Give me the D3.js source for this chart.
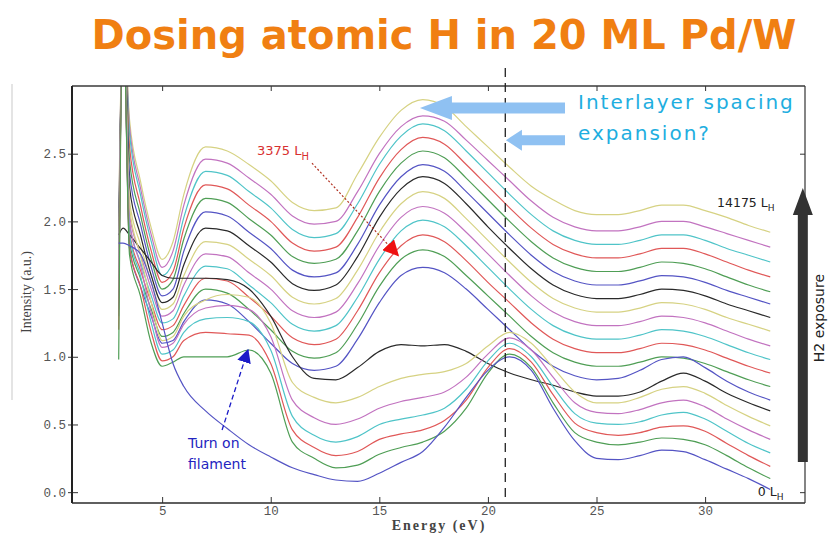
<!DOCTYPE html>
<html>
<head>
<meta charset="utf-8">
<script src="https://cdnjs.cloudflare.com/ajax/libs/d3/7.8.5/d3.min.js"></script>
<style>
    body { margin: 0; background: #fff; }
    svg { display: block; }
</style>
</head>
<body>
<div id="chart"></div>
<script>
// energy grid shared by every spectrum (eV)
const energy = [3.0, 3.2, 3.5, 4, 4.5, 5, 5.5, 6, 7, 8, 9, 10, 11, 12, 13, 14, 15, 16, 17, 18, 19, 20, 21, 22, 23, 24, 25, 26, 27, 28, 29, 30, 31, 32, 33];

// spectra, top (14175 L_H) to bottom (0 L_H)
const s01 = [2.0, 3.6, 2.75, 2.3, 1.95, 1.72, 1.85, 2.2, 2.55, 2.52, 2.42, 2.3, 2.14, 2.08, 2.1, 2.35, 2.62, 2.82, 2.9, 2.85, 2.7, 2.55, 2.4, 2.26, 2.16, 2.08, 2.05, 2.05, 2.08, 2.12, 2.12, 2.08, 2.03, 1.97, 1.92];
const s02 = [1.9, 3.6, 2.7, 2.25, 1.9, 1.66, 1.78, 2.12, 2.46, 2.43, 2.32, 2.2, 2.04, 1.98, 2.0, 2.22, 2.5, 2.7, 2.78, 2.74, 2.6, 2.45, 2.3, 2.15, 2.03, 1.96, 1.93, 1.93, 1.96, 2.0, 2.0, 1.96, 1.91, 1.86, 1.81];
const s03 = [1.85, 3.6, 2.65, 2.2, 1.85, 1.6, 1.7, 2.03, 2.37, 2.34, 2.22, 2.1, 1.94, 1.88, 1.91, 2.13, 2.42, 2.63, 2.72, 2.67, 2.52, 2.36, 2.2, 2.05, 1.93, 1.86, 1.83, 1.83, 1.86, 1.9, 1.9, 1.86, 1.8, 1.75, 1.7];
const s04 = [1.8, 3.6, 2.55, 2.12, 1.78, 1.55, 1.63, 1.95, 2.27, 2.24, 2.12, 2.0, 1.84, 1.78, 1.81, 2.03, 2.32, 2.53, 2.62, 2.57, 2.42, 2.26, 2.1, 1.95, 1.83, 1.76, 1.73, 1.73, 1.76, 1.8, 1.8, 1.76, 1.7, 1.64, 1.59];
const s05 = [1.75, 3.6, 2.45, 2.05, 1.72, 1.5, 1.57, 1.87, 2.17, 2.14, 2.02, 1.9, 1.74, 1.69, 1.72, 1.93, 2.22, 2.43, 2.52, 2.47, 2.32, 2.16, 2.0, 1.85, 1.73, 1.66, 1.63, 1.63, 1.66, 1.7, 1.69, 1.65, 1.59, 1.53, 1.48];
const s06 = [1.7, 3.6, 2.35, 1.98, 1.66, 1.45, 1.5, 1.78, 2.07, 2.04, 1.92, 1.8, 1.64, 1.59, 1.62, 1.83, 2.12, 2.33, 2.42, 2.37, 2.22, 2.06, 1.9, 1.75, 1.63, 1.56, 1.53, 1.53, 1.56, 1.6, 1.59, 1.55, 1.49, 1.44, 1.39];
const s07 = [1.65, 3.6, 2.25, 1.9, 1.6, 1.4, 1.44, 1.68, 1.95, 1.93, 1.82, 1.7, 1.54, 1.49, 1.53, 1.74, 2.03, 2.24, 2.33, 2.28, 2.13, 1.96, 1.8, 1.65, 1.53, 1.46, 1.43, 1.43, 1.46, 1.5, 1.49, 1.45, 1.39, 1.34, 1.29];
const s08 = [1.6, 3.6, 2.15, 1.83, 1.55, 1.35, 1.39, 1.6, 1.85, 1.83, 1.72, 1.6, 1.44, 1.39, 1.43, 1.64, 1.92, 2.13, 2.22, 2.17, 2.02, 1.86, 1.7, 1.55, 1.43, 1.36, 1.33, 1.33, 1.36, 1.4, 1.39, 1.35, 1.29, 1.24, 1.19];
const s09 = [1.55, 3.6, 2.05, 1.76, 1.5, 1.3, 1.34, 1.53, 1.76, 1.74, 1.62, 1.5, 1.34, 1.29, 1.33, 1.54, 1.82, 2.03, 2.11, 2.06, 1.92, 1.76, 1.6, 1.45, 1.33, 1.26, 1.23, 1.23, 1.26, 1.3, 1.29, 1.25, 1.19, 1.13, 1.08];
const s10 = [1.5, 3.6, 1.98, 1.7, 1.45, 1.25, 1.28, 1.45, 1.67, 1.65, 1.53, 1.4, 1.24, 1.19, 1.23, 1.44, 1.72, 1.93, 2.01, 1.96, 1.82, 1.66, 1.5, 1.35, 1.23, 1.16, 1.13, 1.13, 1.16, 1.2, 1.19, 1.15, 1.09, 1.03, 0.98];
const s11 = [1.45, 3.6, 1.92, 1.64, 1.4, 1.2, 1.23, 1.38, 1.58, 1.56, 1.44, 1.3, 1.14, 1.09, 1.13, 1.34, 1.62, 1.82, 1.9, 1.85, 1.71, 1.55, 1.4, 1.25, 1.13, 1.06, 1.03, 1.03, 1.06, 1.1, 1.09, 1.05, 0.99, 0.93, 0.88];
const s12 = [1.4, 3.6, 1.85, 1.58, 1.35, 1.15, 1.18, 1.32, 1.5, 1.47, 1.35, 1.2, 1.04, 0.99, 1.03, 1.24, 1.52, 1.72, 1.79, 1.74, 1.6, 1.45, 1.3, 1.15, 1.03, 0.96, 0.93, 0.93, 0.96, 1.0, 0.99, 0.95, 0.89, 0.83, 0.78];
const s13 = [1.35, 3.6, 1.8, 1.52, 1.3, 1.1, 1.12, 1.26, 1.42, 1.39, 1.26, 1.1, 0.95, 0.9, 0.93, 1.13, 1.4, 1.6, 1.66, 1.62, 1.5, 1.35, 1.2, 1.05, 0.93, 0.86, 0.83, 0.84, 0.9, 0.98, 1.0, 0.92, 0.82, 0.74, 0.68];
const s14 = [1.9, 1.95, 1.9, 1.8, 1.7, 1.6, 1.58, 1.58, 1.58, 1.57, 1.5, 1.3, 1.0, 0.84, 0.83, 0.92, 1.04, 1.09, 1.08, 1.09, 1.04, 0.95, 0.88, 0.83, 0.79, 0.74, 0.71, 0.71, 0.74, 0.82, 0.88, 0.82, 0.73, 0.66, 0.6];
const s15 = [1.5, 3.6, 2.1, 1.75, 1.4, 1.12, 1.15, 1.3, 1.42, 1.46, 1.44, 1.25, 0.81, 0.7, 0.66, 0.7, 0.78, 0.84, 0.87, 0.89, 0.95, 1.08, 1.18, 1.1, 0.92, 0.74, 0.66, 0.66, 0.7, 0.76, 0.78, 0.73, 0.64, 0.56, 0.49];
const s16 = [1.4, 3.6, 2.0, 1.68, 1.32, 1.07, 1.1, 1.24, 1.36, 1.38, 1.35, 1.15, 0.68, 0.55, 0.5, 0.54, 0.62, 0.67, 0.7, 0.74, 0.85, 1.02, 1.14, 1.05, 0.85, 0.66, 0.59, 0.58, 0.61, 0.66, 0.68, 0.63, 0.54, 0.46, 0.39];
const s17 = [1.3, 3.6, 1.9, 1.6, 1.25, 1.02, 1.05, 1.18, 1.28, 1.29, 1.26, 1.05, 0.56, 0.42, 0.37, 0.41, 0.5, 0.54, 0.57, 0.62, 0.76, 0.97, 1.1, 1.0, 0.78, 0.58, 0.51, 0.5, 0.52, 0.57, 0.59, 0.54, 0.45, 0.36, 0.29];
const s18 = [1.2, 3.6, 1.8, 1.52, 1.18, 0.97, 1.0, 1.12, 1.18, 1.17, 1.16, 0.95, 0.46, 0.33, 0.27, 0.3, 0.39, 0.43, 0.46, 0.53, 0.68, 0.92, 1.06, 0.96, 0.72, 0.51, 0.44, 0.42, 0.44, 0.48, 0.49, 0.45, 0.36, 0.27, 0.19];
const s19 = [0.98, 3.6, 1.75, 1.45, 1.1, 0.93, 0.96, 1.0, 1.0, 1.0, 1.05, 0.88, 0.37, 0.25, 0.18, 0.2, 0.28, 0.33, 0.37, 0.45, 0.62, 0.88, 1.02, 0.92, 0.66, 0.44, 0.37, 0.35, 0.37, 0.4, 0.39, 0.35, 0.27, 0.18, 0.1];
const s20 = [1.84, 1.84, 1.82, 1.76, 1.55, 1.25, 0.95, 0.78, 0.6, 0.47, 0.35, 0.26, 0.18, 0.13, 0.09, 0.08, 0.14, 0.22, 0.3, 0.48, 0.7, 0.9, 1.0, 0.9, 0.62, 0.38, 0.25, 0.24, 0.27, 0.31, 0.3, 0.24, 0.17, 0.1, 0.02];

const spectra = [s01, s02, s03, s04, s05, s06, s07, s08, s09, s10,
                 s11, s12, s13, s14, s15, s16, s17, s18, s19, s20];

// colour cycle of the plotting program
const lineColors = ["#d6d283", "#c273c0", "#4fc4c8", "#e05858", "#4f9e55", "#5454c4", "#2a2a2a"];

const xTicks = [5, 10, 15, 20, 25, 30];
const yTicks = [0, 0.5, 1.0, 1.5, 2.0, 2.5];
const markerEnergy = 20.8;   // dashed reference line

var width = 829, height = 534;
var plot = {left: 72, right: 805, top: 86, bottom: 503};

var svg = d3.select("#chart")
    .append("svg")
    .attr("width", width)
    .attr("height", height)
    .style("font-family", "'DejaVu Sans', sans-serif");

var x = d3.scaleLinear().domain([0.85, 34.6]).range([plot.left, plot.right]);
var y = d3.scaleLinear().domain([-0.08, 3.0]).range([plot.bottom, plot.top]);

// title
svg.append("text")
    .attr("x", 444)
    .attr("y", 49)
    .attr("text-anchor", "middle")
    .style("font-size", "40px")
    .style("font-weight", "bold")
    .style("fill", "#f07f12")
    .text("Dosing atomic H in 20 ML Pd/W");

// faint slide edge on the left
svg.append("line")
    .attr("x1", 12).attr("x2", 12)
    .attr("y1", 84).attr("y2", 400)
    .style("stroke", "#e4e4e4")
    .style("stroke-width", 2);

svg.append("clipPath")
    .attr("id", "plotClip")
    .append("rect")
    .attr("x", plot.left)
    .attr("y", plot.top)
    .attr("width", plot.right - plot.left)
    .attr("height", plot.bottom - plot.top);

var line = d3.line()
    .x((d, i) => x(energy[i]))
    .y(d => y(d))
    .curve(d3.curveMonotoneX);

svg.append("g")
    .attr("clip-path", "url(#plotClip)")
    .selectAll("path")
    .data(spectra)
    .enter()
    .append("path")
    .attr("d", line)
    .style("fill", "none")
    .style("stroke", (d, i) => lineColors[i % lineColors.length])
    .style("stroke-width", 1.2);

// axes (ticks point inwards)
var tickFont = "'Liberation Mono', monospace";

svg.append("g")
    .attr("transform", "translate(0," + plot.bottom + ")")
    .call(d3.axisBottom(x).tickValues(xTicks).tickSize(-6).tickPadding(3).tickFormat(d3.format("d")));
svg.append("g")
    .attr("transform", "translate(0," + plot.top + ")")
    .call(d3.axisTop(x).tickValues(xTicks).tickSize(-5).tickFormat(""));
var yAxis = svg.append("g")
    .attr("transform", "translate(" + plot.left + ",0)")
    .call(d3.axisLeft(y).tickValues(yTicks).tickSize(-6).tickPadding(6).tickFormat(d3.format(".1f")));
yAxis.selectAll(".tick line").attr("x1", -4).attr("x2", 6);
svg.append("g")
    .attr("transform", "translate(" + plot.right + ",0)")
    .call(d3.axisRight(y).tickValues(yTicks).tickSize(-5).tickFormat(""));

svg.selectAll(".domain").remove();
svg.selectAll(".tick line").style("stroke", "#333");
svg.selectAll(".tick text")
    .style("font-family", tickFont)
    .style("font-size", "12.5px")
    .style("fill", "#555");

// frame
svg.append("line").attr("x1", plot.left).attr("x2", plot.right).attr("y1", plot.top).attr("y2", plot.top)
    .style("stroke", "#3a3a3a").style("stroke-width", 1.5);
svg.append("line").attr("x1", plot.left).attr("x2", plot.right).attr("y1", plot.bottom).attr("y2", plot.bottom)
    .style("stroke", "#2a2a2a").style("stroke-width", 1.5);
svg.append("line").attr("x1", plot.left).attr("x2", plot.left).attr("y1", plot.top).attr("y2", plot.bottom)
    .style("stroke", "#222").style("stroke-width", 2);
svg.append("line").attr("x1", plot.right).attr("x2", plot.right).attr("y1", plot.top).attr("y2", plot.bottom)
    .style("stroke", "#333").style("stroke-width", 1.2);

// axis titles
svg.append("text")
    .attr("x", 439)
    .attr("y", 530)
    .attr("text-anchor", "middle")
    .style("font-family", "'Liberation Serif', serif")
    .style("font-size", "14px")
    .style("font-weight", "bold")
    .style("letter-spacing", "2px")
    .style("fill", "#444")
    .text("Energy (eV)");

svg.append("text")
    .attr("transform", "translate(31,292) rotate(-90)")
    .attr("text-anchor", "middle")
    .style("font-family", "'Liberation Serif', serif")
    .style("font-size", "14px")
    .style("fill", "#444")
    .text("Intensity (a.u.)");

// dashed reference line
svg.append("line")
    .attr("x1", x(markerEnergy)).attr("x2", x(markerEnergy))
    .attr("y1", 68).attr("y2", plot.bottom)
    .style("stroke", "#222")
    .style("stroke-width", 1.3)
    .style("stroke-dasharray", "9,6");

// arrow heads
var defs = svg.append("defs");
function head(id, color, size) {
    defs.append("marker")
        .attr("id", id)
        .attr("viewBox", "0 0 10 10")
        .attr("refX", 9).attr("refY", 5)
        .attr("markerWidth", size).attr("markerHeight", size)
        .attr("markerUnits", "userSpaceOnUse")
        .attr("orient", "auto")
        .append("path")
        .attr("d", "M0,0 L10,5 L0,10 Z")
        .style("fill", color);
}
head("redHead", "#ee1111", 16);
head("blueHead", "#1c1cc8", 14);

// 3375 L_H annotation
var t3375 = svg.append("text")
    .attr("x", x(9.37)).attr("y", y(2.49))
    .style("font-size", "13px")
    .style("fill", "#d83030")
    .text("3375 L");
t3375.append("tspan").attr("dy", 5).style("font-size", "10px").text("H");

svg.append("line")
    .attr("x1", x(11.9)).attr("y1", y(2.43))
    .attr("x2", x(15.86)).attr("y2", y(1.75))
    .style("stroke", "#b03020")
    .style("stroke-width", 1.2)
    .style("stroke-dasharray", "2,2")
    .attr("marker-end", "url(#redHead)");

// turn on filament annotation
svg.append("text")
    .attr("x", x(6.19)).attr("y", y(0.326))
    .style("font-size", "14px")
    .style("fill", "#2424c0")
    .text("Turn on");
svg.append("text")
    .attr("x", x(6.19)).attr("y", y(0.171))
    .style("font-size", "14px")
    .style("fill", "#2424c0")
    .text("filament");
svg.append("line")
    .attr("x1", x(7.76)).attr("y1", y(0.459))
    .attr("x2", x(8.95)).attr("y2", y(1.05))
    .style("stroke", "#1c1cc8")
    .style("stroke-width", 1.3)
    .style("stroke-dasharray", "5,3")
    .attr("marker-end", "url(#blueHead)");

// interlayer spacing arrows
function blockArrow(tipE, tailE, val, shaft, headW, headL, color) {
    var tx = x(tipE), ex = x(tailE), cy = y(val);
    var pts = [[tx, cy], [tx + headL, cy - headW / 2], [tx + headL, cy - shaft / 2],
               [ex, cy - shaft / 2], [ex, cy + shaft / 2], [tx + headL, cy + shaft / 2],
               [tx + headL, cy + headW / 2]];
    svg.append("path")
        .attr("d", "M" + pts.join("L") + "Z")
        .style("fill", color);
}
blockArrow(16.87, 23.55, 2.837, 11, 24, 32, "#8fc1f2");
blockArrow(20.83, 23.55, 2.60, 10, 21, 16, "#8fc1f2");

svg.append("text")
    .attr("x", x(24.15)).attr("y", y(2.83))
    .style("font-size", "20px")
    .style("letter-spacing", "2px")
    .style("fill", "#1eaee0")
    .text("Interlayer spacing");
svg.append("text")
    .attr("x", x(24.15)).attr("y", y(2.60))
    .style("font-size", "20px")
    .style("letter-spacing", "2px")
    .style("fill", "#1eaee0")
    .text("expansion?");

// exposure labels
var tTop = svg.append("text")
    .attr("x", x(30.55)).attr("y", y(2.106))
    .style("font-size", "12.5px")
    .style("fill", "#222")
    .text("14175 L");
tTop.append("tspan").attr("dy", 4).style("font-size", "9px").text("H");

var tBot = svg.append("text")
    .attr("x", x(32.43)).attr("y", y(-0.028))
    .style("font-size", "12.5px")
    .style("fill", "#222")
    .text("0 L");
tBot.append("tspan").attr("dy", 4).style("font-size", "9px").text("H");

// H2 exposure arrow on the right edge
var ax = x(34.5), aTop = y(2.247), aBot = y(0.223);
svg.append("path")
    .attr("d", "M" + (ax - 5) + "," + aBot + "L" + (ax - 5) + "," + (aTop + 27) +
               "L" + (ax - 10) + "," + (aTop + 27) + "L" + ax + "," + aTop +
               "L" + (ax + 10) + "," + (aTop + 27) + "L" + (ax + 5) + "," + (aTop + 27) +
               "L" + (ax + 5) + "," + aBot + "Z")
    .style("fill", "#333");

svg.append("text")
    .attr("transform", "translate(" + (ax + 21) + "," + y(1.286) + ") rotate(-90)")
    .attr("text-anchor", "middle")
    .style("font-size", "14px")
    .style("fill", "#222")
    .text("H2 exposure");
</script>
</body>
</html>
